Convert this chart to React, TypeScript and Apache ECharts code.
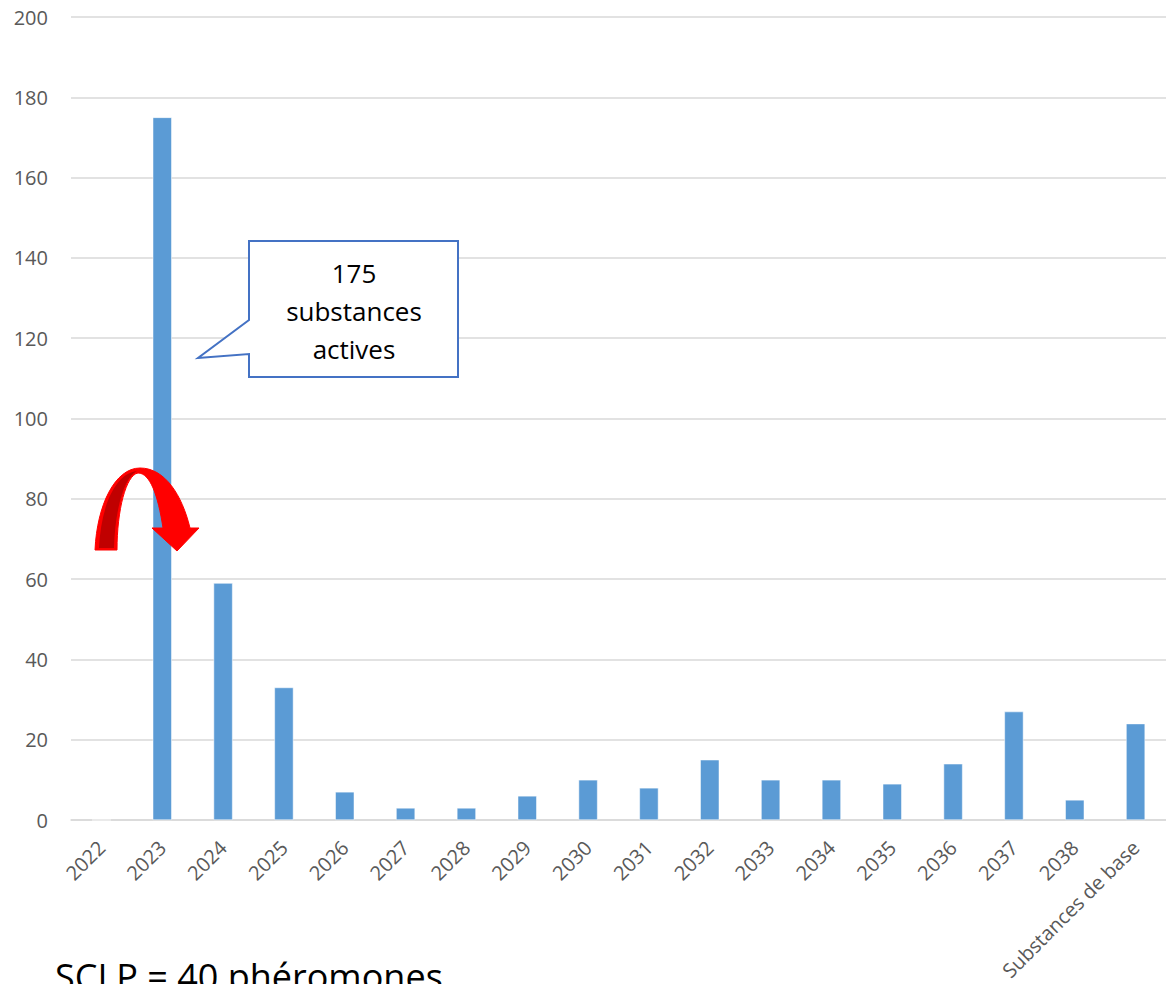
import React, { useEffect, useRef } from "react";
import * as echarts from "echarts";

const categories = [
  "2022", "2023", "2024", "2025", "2026", "2027", "2028", "2029", "2030",
  "2031", "2032", "2033", "2034", "2035", "2036", "2037", "2038", "Substances de base",
];
const values = [0, 175, 59, 33, 7, 3, 3, 6, 10, 8, 15, 10, 10, 9, 14, 27, 5, 24];
const yTicks = { min: 0, max: 200, interval: 20 };
const calloutLines = ["175", "substances", "actives"];
const footnote = "SCLP = 40 phéromones";

const arrowPath =
  "M95,550 C97,505 115,468 140,468 C165,468 182,495 190,528 L199,528 L177,551 L152,528 L163,528 C158,495 150,473 138,473 C126,475 117,510 117,550 Z";
const arrowDark =
  "M99,548 C101,505 116,473 137,471 C124,477 115,510 114,548 Z";

let registered = false;
function registerShapes() {
  if (registered) return;
  registered = true;
  echarts.graphic.registerShape("bigArrow", echarts.graphic.extendPath(arrowPath, {}));
  echarts.graphic.registerShape("bigArrowDark", echarts.graphic.extendPath(arrowDark, {}));
}

export default function App() {
  const ref = useRef<HTMLDivElement>(null);
  useEffect(() => {
    if (!ref.current) return;
    registerShapes();
    const chart = echarts.init(ref.current, undefined, { renderer: "svg" });
    const font = "'Open Sans', 'Noto Sans', sans-serif";
    chart.setOption({
      animation: false,
      backgroundColor: "#ffffff",
      grid: { left: 71, right: -7, top: 17, bottom: 164, containLabel: false },
      xAxis: {
        type: "category",
        data: categories,
        axisLine: { show: true, lineStyle: { color: "#d9d9d9", width: 1.5 } },
        axisTick: { show: false },
        axisLabel: {
          interval: 0,
          rotate: 45,
          margin: 24,
          color: "#595959",
          fontSize: 20,
          fontFamily: font,
        },
      },
      yAxis: {
        type: "value",
        min: yTicks.min,
        max: yTicks.max,
        interval: yTicks.interval,
        axisLine: { show: false },
        axisTick: { show: false },
        splitLine: { lineStyle: { color: "#d9d9d9", width: 1.5 } },
        axisLabel: {
          margin: 23,
          color: "#595959",
          fontSize: 20,
          fontFamily: font,
        },
      },
      series: [
        {
          type: "bar",
          data: values,
          barWidth: 19,
          itemStyle: { color: "#5b9bd5", borderColor: "#ffffff", borderWidth: 0.5 },
        },
      ],
      graphic: [
        {
          type: "polygon",
          shape: {
            points: [
              [249, 241], [458, 241], [458, 377], [249, 377],
              [249, 354], [198, 358], [249, 320],
            ],
          },
          style: { fill: "#ffffff", stroke: "#4472c4", lineWidth: 2 },
          z: 100,
        },
        ...calloutLines.map((t, i) => ({
          type: "text",
          x: 354,
          y: 273 + i * 38,
          style: {
            text: t,
            fill: "#000000",
            font: `26px ${font}`,
            textAlign: "center",
            textVerticalAlign: "middle",
          },
          z: 101,
        })),
        {
          type: "bigArrow",
          x: 0,
          y: 0,
          style: { fill: "#ff0000", stroke: "#ff0000", lineWidth: 1 },
          z: 100,
        },
        {
          type: "bigArrowDark",
          x: 0,
          y: 0,
          style: { fill: "#c00000" },
          z: 101,
        },
        {
          type: "text",
          x: 55,
          y: 958,
          style: {
            text: footnote,
            fill: "#000000",
            font: `36px ${font}`,
            textAlign: "left",
            textVerticalAlign: "top",
          },
          z: 100,
        },
      ],
    });
    return () => chart.dispose();
  }, []);
  return (
    <div style={{ position: "fixed", left: 0, top: 0, width: 1166, height: 984, overflow: "hidden" }}>
      <div ref={ref} style={{ width: 1166, height: 984 }} />
    </div>
  );
}
